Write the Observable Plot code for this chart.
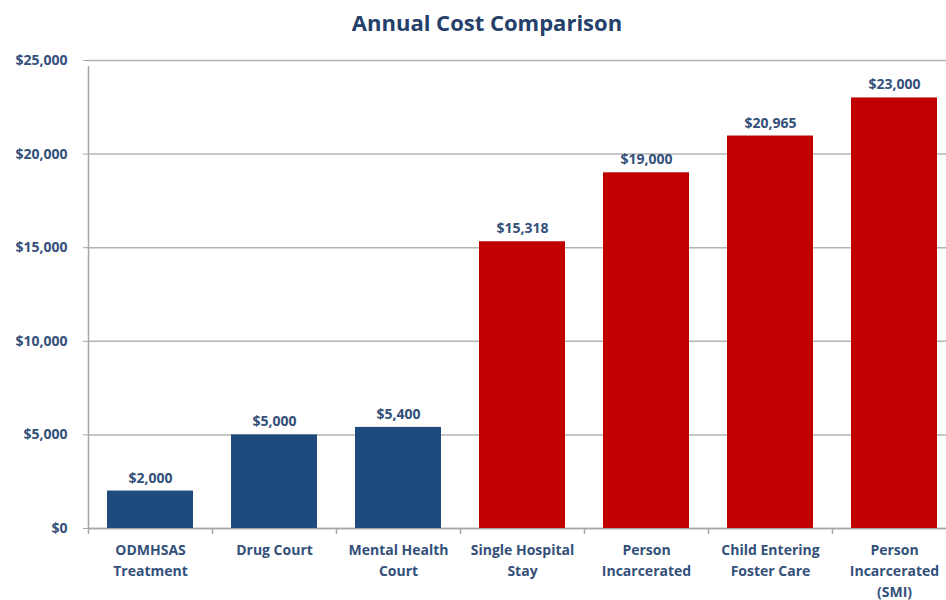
<!DOCTYPE html>
<html>
<head>
<meta charset="utf-8">
<script src="https://cdn.jsdelivr.net/npm/d3@7"></script>
<script src="https://cdn.jsdelivr.net/npm/@observablehq/plot@0.6"></script>
<style>
  html, body { margin: 0; padding: 0; background: #fff; overflow: hidden; }
  #title { height: 44px; line-height: 44px; font-family: "Open Sans", Lato, sans-serif; font-weight: 700; font-size: 22px; color: #24406a; text-align: center; padding-left: 28px; box-sizing: border-box; width: 946px; }
  #chart svg { overflow: visible; }
</style>
</head>
<body>
<div id="title">Annual Cost Comparison</div>
<div id="chart"></div>
<script>
const categories = ["ODMHSAS\nTreatment", "Drug Court", "Mental Health\nCourt", "Single Hospital\nStay", "Person\nIncarcerated", "Child Entering\nFoster Care", "Person\nIncarcerated\n(SMI)"];
const costs = [2000, 5000, 5400, 15318, 19000, 20965, 23000];
const groups = ["Treatment", "Treatment", "Treatment", "Institutional", "Institutional", "Institutional", "Institutional"];
const yTicks = [0, 5000, 10000, 15000, 20000, 25000];

const data = categories.map((c, i) => ({category: c, cost: costs[i], group: groups[i]}));
const fmt = d3.format("$,");
const labelColor = "#34507a";
const font = "'Open Sans', Lato, sans-serif";
const xRange = [88, 956];
const step = (xRange[1] - xRange[0]) / categories.length;

const chart = Plot.plot({
  width: 946,
  height: 556,
  marginTop: 16,
  marginBottom: 72,
  marginLeft: 88,
  marginRight: 0,
  style: {fontFamily: font, fontWeight: 700, fontSize: "14px", color: labelColor, background: "transparent", overflow: "visible"},
  x: {domain: categories, range: xRange, paddingInner: 0.306, paddingOuter: 0.153, label: null},
  y: {domain: [0, 25000], label: null},
  color: {domain: ["Treatment", "Institutional"], range: ["#1f4a7e", "#c00000"]},
  marks: [
    Plot.gridY(yTicks, {stroke: "#b4b4b4", strokeOpacity: 1, strokeWidth: 1.5}),
    Plot.axisY(yTicks, {tickFormat: fmt, tickSize: 5, tickPadding: 16, stroke: "#a6a6a6", fill: labelColor, fontSize: 14, fontWeight: 700}),
    Plot.ruleX([categories[0]], {x: d => d, y1: 0, y2: 25000, dx: -step / 2, insetBottom: -6, stroke: "#a6a6a6", strokeWidth: 1.5}),
    Plot.ruleY([0], {stroke: "#a6a6a6", strokeWidth: 1.5}),
    Plot.ruleX(categories, {x: d => d, y1: 0, y2: 0, dx: -step / 2, insetBottom: -6, stroke: "#a6a6a6", strokeWidth: 1.5}),
    Plot.barY(data, {x: "category", y: "cost", fill: "group"}),
    Plot.text(data, {x: "category", y: "cost", text: d => fmt(d.cost), dy: -13, fill: labelColor, fontSize: 14, fontWeight: 700}),
    Plot.axisX({tickSize: 0, tickPadding: 12, fill: labelColor, fontSize: 14, fontWeight: 700, lineHeight: 1.5})
  ]
});
document.getElementById("chart").appendChild(chart);
</script>
</body>
</html>
